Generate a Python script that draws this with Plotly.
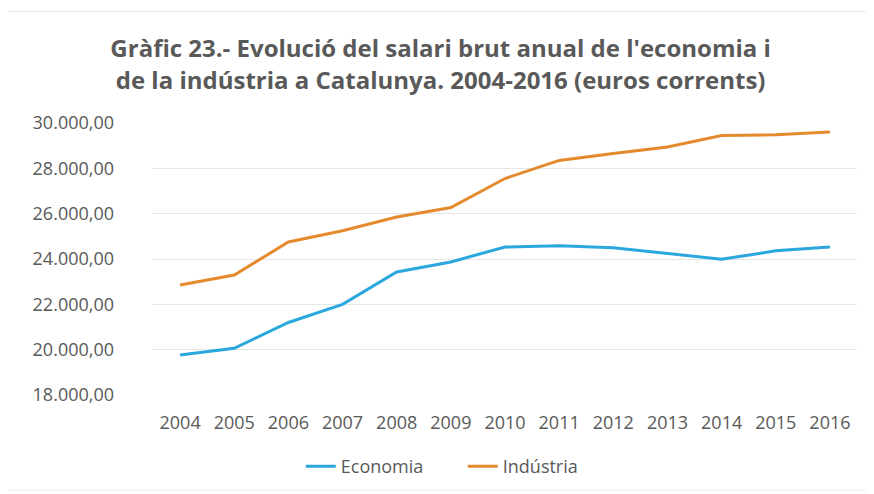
import plotly.graph_objects as go

years = ["2004", "2005", "2006", "2007", "2008", "2009", "2010", "2011", "2012", "2013", "2014", "2015", "2016"]
economia = [19760, 20060, 21200, 22000, 23430, 23870, 24530, 24580, 24500, 24240, 23990, 24360, 24530]
industria = [22850, 23290, 24750, 25250, 25850, 26270, 27550, 28350, 28650, 28940, 29450, 29480, 29600]
y_ticks = [18000, 20000, 22000, 24000, 26000, 28000, 30000]

title_text = "Gràfic 23.- Evolució del salari brut anual de l'economia i<br>de la indústria a Catalunya. 2004-2016 (euros corrents)"

fig = go.Figure()
fig.add_trace(go.Scatter(x=years, y=economia, name="Economia", mode="lines",
                         line=dict(color="#2AA7DD", width=3)))
fig.add_trace(go.Scatter(x=years, y=industria, name="Indústria", mode="lines",
                         line=dict(color="#E58A2C", width=3)))

fig.update_layout(
    width=874, height=494,
    margin=dict(l=145, r=25, t=115, b=107),
    paper_bgcolor="white", plot_bgcolor="white",
    separators=",.",
    title=dict(text=title_text, x=0.495, xanchor="center", y=0.90, yanchor="top",
               font=dict(family="Open Sans", size=24, color="#595959", weight="bold")),
    font=dict(family="Open Sans", color="#595959", size=18),
    xaxis=dict(type="category", range=[-0.5, 12.5], showgrid=False, showline=False, ticks="",
               tickfont=dict(size=18, color="#595959"), ticklabelstandoff=15),
    yaxis=dict(range=[18000, 30000], tickvals=y_ticks, tickformat=",.2f",
               showgrid=True, gridcolor="#E6E6E6", gridwidth=1, zeroline=False,
               showline=False, ticks="", tickfont=dict(size=18, color="#595959"),
               ticklabelstandoff=38),
    legend=dict(orientation="h", x=0.44, xanchor="center",
                y=-0.195, yanchor="top", entrywidth=117,
                font=dict(size=18, color="#595959"),
                bgcolor="rgba(0,0,0,0)"),
    shapes=[dict(type="rect", xref="paper", yref="paper", x0=-0.21, x1=1.018, y0=-0.35, y1=1.41,
                 line=dict(color="#EBEBEB", width=1))],
)

fig.write_html("out.html")
